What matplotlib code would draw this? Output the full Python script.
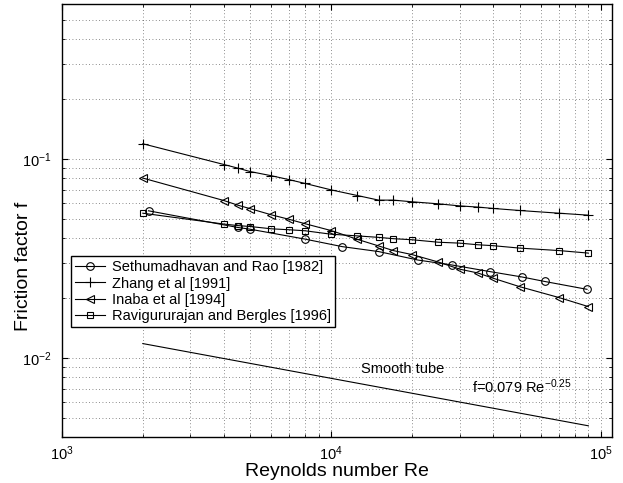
import matplotlib
matplotlib.use('Agg')
import matplotlib.pyplot as plt
from matplotlib.ticker import LogLocator, NullFormatter

plt.rcParams['font.family'] = ['Liberation Sans', 'DejaVu Sans']
plt.rcParams['mathtext.default'] = 'regular'

# Reynolds numbers and friction factors
re_sr = [2100, 4500, 5000, 8000, 11000, 15000, 21000, 28000, 39000, 51000, 62000, 89000]
f_sr = [0.0548, 0.0452, 0.0443, 0.0395, 0.0362, 0.0342, 0.0310, 0.0293, 0.0271, 0.0255, 0.0242, 0.0221]

re_zh = [2000, 4000, 4500, 5000, 6000, 7000, 8000, 10000, 12500, 15000, 17000,
         20000, 25000, 30000, 35000, 40000, 50000, 70000, 90000]
f_zh = [0.119, 0.0936, 0.0898, 0.0863, 0.0822, 0.0785, 0.0752, 0.0698, 0.0654, 0.0620, 0.0620,
        0.0608, 0.0594, 0.0580, 0.0572, 0.0563, 0.0550, 0.0533, 0.0521]

re_in = re_zh
f_in = [0.080, 0.0617, 0.0585, 0.0562, 0.0523, 0.0496, 0.0472, 0.0436, 0.0394, 0.0365, 0.0346,
        0.0330, 0.0303, 0.0279, 0.0267, 0.0251, 0.0228, 0.0201, 0.0181]

re_rb = re_zh
f_rb = [0.0533, 0.0470, 0.0462, 0.0457, 0.0445, 0.0440, 0.0435, 0.0418, 0.0410, 0.0403, 0.0397,
        0.0392, 0.0381, 0.0377, 0.0370, 0.0366, 0.0356, 0.0346, 0.0336]

# smooth tube correlation f = 0.079 Re^-0.25, endpoints
re_st = [2000, 90000]
f_st = [0.0118, 0.00456]

labels = ['Sethumadhavan and Rao [1982]', 'Zhang et al [1991]',
          'Inaba et al [1994]', 'Ravigururajan and Bergles [1996]']

fig = plt.figure(figsize=(6.23, 4.83), dpi=100)
ax = fig.add_axes([0.099, 0.095, 0.883, 0.897])

kw = dict(color='black', linewidth=0.8, markerfacecolor='none', markeredgewidth=0.8)
ax.plot(re_sr, f_sr, marker='o', markersize=5.5, label=labels[0], **kw)
ax.plot(re_zh, f_zh, marker='+', markersize=6.5, label=labels[1], **kw)
ax.plot(re_in, f_in, marker='<', markersize=6, label=labels[2], **kw)
ax.plot(re_rb, f_rb, marker='s', markersize=5, label=labels[3], **kw)
ax.plot(re_st, f_st, color='black', linewidth=0.8)

ax.set_xscale('log')
ax.set_yscale('log')
ax.set_xlim(1000, 110000)
ax.set_ylim(0.004, 0.6)

ax.xaxis.set_minor_locator(LogLocator(base=10, subs=range(2, 10), numticks=20))
ax.yaxis.set_minor_locator(LogLocator(base=10, subs=range(2, 10), numticks=20))
ax.xaxis.set_minor_formatter(NullFormatter())
ax.yaxis.set_minor_formatter(NullFormatter())

ax.grid(True, which='both', linestyle=(0, (1, 3)), color='black', linewidth=0.6, alpha=0.6)
ax.tick_params(which='both', direction='in', top=True, right=True, labelsize=10.5)
ax.tick_params(which='major', length=4)
ax.tick_params(which='minor', length=2.5)
ax.tick_params(axis='x', pad=5)
ax.tick_params(axis='y', pad=7)
for sp in ax.spines.values():
    sp.set_linewidth(1.0)

ax.set_xlabel('Reynolds number Re', fontsize=14, labelpad=0)
fig.text(24 / 623, 1 - 266 / 483, 'Friction factor f', fontsize=14,
         rotation=90, ha='center', va='center')

ax.text(0.5436, 0.147, 'Smooth tube', transform=ax.transAxes, fontsize=10.5)
ax.text(0.7455, 0.101, 'f=0.079 Re$^{-0.25}$', transform=ax.transAxes, fontsize=10.5)

leg = ax.legend(loc='upper left', bbox_to_anchor=(0.017, 0.418), fontsize=10.5,
                fancybox=False, edgecolor='black', framealpha=1, handlelength=2.0,
                handletextpad=0.5, borderpad=0.3, labelspacing=0.15, borderaxespad=0)
leg.get_frame().set_linewidth(1.0)

fig.savefig('out.png', dpi=100)
